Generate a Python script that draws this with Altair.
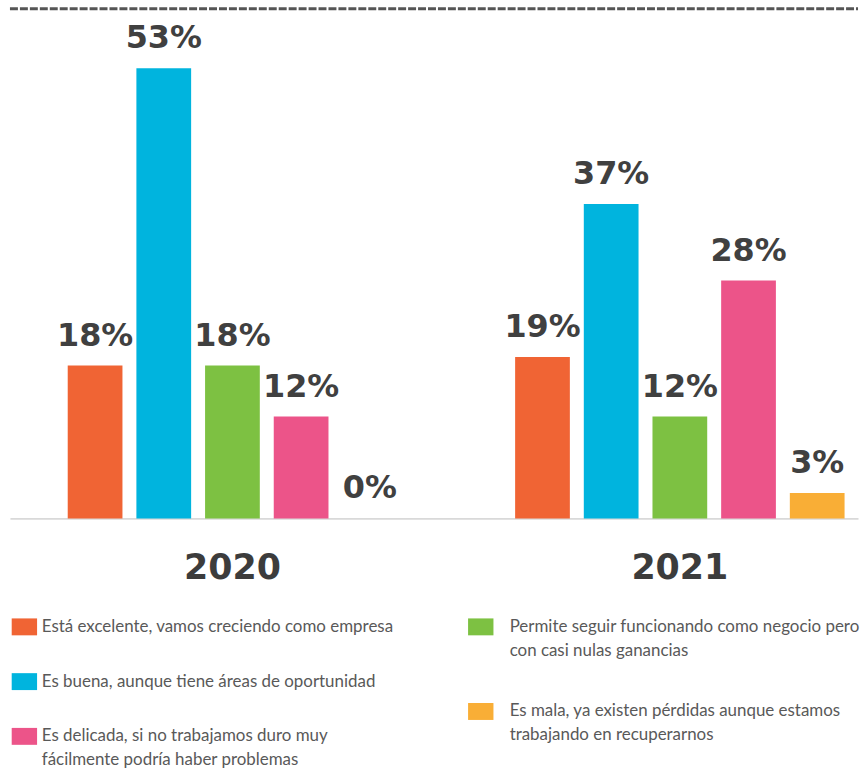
import altair as alt
import pandas as pd

# ---------------- data ----------------
categories = [
    "Está excelente, vamos creciendo como empresa",
    "Es buena, aunque tiene áreas de oportunidad",
    "Permite seguir funcionando como negocio pero con casi nulas ganancias",
    "Es delicada, si no trabajamos duro muy fácilmente podría haber problemas",
    "Es mala, ya existen pérdidas aunque estamos trabajando en recuperarnos",
]
legend_text = [
    "Está excelente, vamos creciendo como empresa",
    "Es buena, aunque tiene áreas de oportunidad",
    "Permite seguir funcionando como negocio pero\ncon casi nulas ganancias",
    "Es delicada, si no trabajamos duro muy\nfácilmente podría haber problemas",
    "Es mala, ya existen pérdidas aunque estamos\ntrabajando en recuperarnos",
]
colors = ["#F06434", "#00B4DE", "#7DC142", "#EC5489", "#F9AE36"]
years = ["2020", "2021"]
values_2020 = [18, 53, 18, 12, 0]
values_2021 = [19, 37, 12, 28, 3]
legend_left = [0, 1, 3]
legend_right = [2, 4]

rows = []
for yr, vals in zip(years, [values_2020, values_2021]):
    for cat, v in zip(categories, vals):
        rows.append({"year": yr, "cat": cat, "value": v, "label": f"{v}%"})
df = pd.DataFrame(rows)

color_scale = alt.Scale(domain=categories, range=colors)

# ---------------- bar chart ----------------
x_enc = alt.X(
    "year:N",
    sort=years,
    title=None,
    scale=alt.Scale(paddingInner=0.2325, paddingOuter=0.064, align=0.887),
    axis=alt.Axis(
        domainColor="#d9d9d9",
        domainWidth=2,
        ticks=False,
        tickSize=0,
        labelAngle=0,
        labelFont="DejaVu Sans",
        labelFontWeight="bold",
        labelFontSize=35,
        labelColor="#3c3c3c",
        labelPadding=32,
        grid=False,
    ),
)
xo_enc = alt.XOffset(
    "cat:N",
    sort=categories,
    scale=alt.Scale(domain=categories, paddingInner=0.203, paddingOuter=0.1015),
)
y_enc = alt.Y("value:Q", scale=alt.Scale(domain=[0, 60]), axis=None)

base = alt.Chart(df).encode(x=x_enc, xOffset=xo_enc, y=y_enc)
bars = base.mark_bar().encode(
    color=alt.Color("cat:N", scale=color_scale, legend=None)
)
labels = base.mark_text(
    baseline="alphabetic",
    dy=-20,
    font="DejaVu Sans",
    fontWeight="bold",
    fontSize=32,
    color="#404040",
).encode(text="label:N")

rule = alt.Chart(alt.Data(values=[{}])).mark_rule(
    strokeDash=[8, 2], strokeWidth=3, color="#555555"
).encode(x=alt.value(0), x2=alt.value(852), y=alt.value(0))

top = alt.layer(rule, bars, labels).properties(width=852, height=512)


# ---------------- legend ----------------
def legend_chart(idx, width, height, sw_x, tx_x):
    cats = [categories[i] for i in idx]
    ldf = pd.DataFrame({"cat": cats, "text": [legend_text[i] for i in idx]})
    ys = alt.Y(
        "cat:N",
        sort=cats,
        scale=alt.Scale(type="point", domain=cats, padding=0),
        axis=None,
    )
    sw = alt.Chart(ldf).mark_point(
        shape="M-1.5,-1H1.5V1H-1.5Z", size=289, filled=True, opacity=1
    ).encode(
        x=alt.value(sw_x),
        y=ys,
        color=alt.Color("cat:N", scale=color_scale, legend=None),
    )
    tx = alt.Chart(ldf).mark_text(
        align="left",
        baseline="middle",
        font="Lato",
        fontSize=17,
        lineHeight=24,
        lineBreak="\n",
        color="#595959",
    ).encode(x=alt.value(tx_x), y=ys, text="text:N")
    return alt.layer(sw, tx).properties(width=width, height=height)


legends = alt.hconcat(
    legend_chart(legend_left, 440, 110, 14.5, 32),
    legend_chart(legend_right, 400, 85, 33, 62),
    spacing=0,
    bounds="flush",
)

chart = (
    alt.vconcat(top, legends, spacing=109, bounds="flush")
    .properties(padding={"left": 8, "top": 5, "right": 0, "bottom": 0})
    .configure_view(stroke=None)
)

chart.save("out.html", embed_options={"renderer": "svg", "actions": False})
